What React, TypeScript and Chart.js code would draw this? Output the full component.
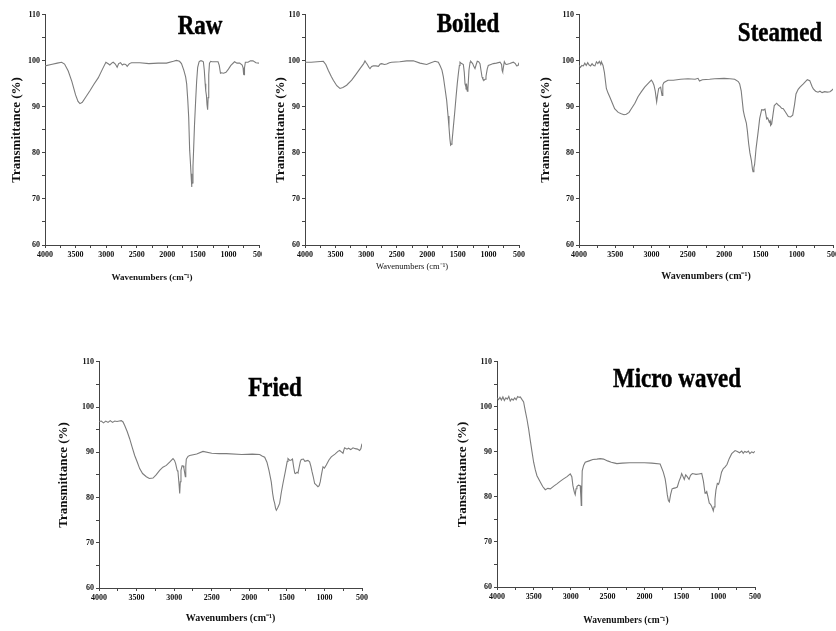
import React, { useEffect, useRef } from "react";
import { Chart, registerables } from "chart.js";
Chart.register(...registerables);

// ---------- tick labels ----------
const X_TICKS = [4000, 3750, 3500, 3250, 3000, 2750, 2500, 2250, 2000, 1750, 1500, 1250, 1000, 750, 500];
const Y_TICKS = [60, 65, 70, 75, 80, 85, 90, 95, 100, 105, 110];

// ---------- Raw ----------
const rawWavenumber = [4000, 3900, 3800, 3728, 3680, 3620, 3560, 3500, 3460, 3428, 3390, 3330, 3260, 3200, 3130, 3060, 3004, 2960, 2940, 2900, 2884, 2850, 2820, 2795, 2765, 2735, 2710, 2680, 2656, 2620, 2585, 2450, 2300, 2150, 2013, 1900, 1850, 1800, 1768, 1730, 1700, 1683, 1665, 1650, 1634, 1622, 1612, 1603, 1596, 1590, 1580, 1570, 1555, 1536, 1520, 1503, 1480, 1460, 1437, 1410, 1395, 1380, 1374, 1368, 1360, 1350, 1340, 1332, 1322, 1310, 1290, 1270, 1230, 1170, 1150, 1130, 1115, 1080, 1040, 1000, 960, 900, 860, 816, 775, 760, 752, 745, 737, 723, 680, 640, 598, 550, 500];
const rawTransmittance = [98.9, 99.2, 99.5, 99.7, 99.3, 97.8, 95.5, 92.6, 91.2, 90.7, 91.0, 92.2, 93.6, 94.9, 96.3, 98.2, 99.7, 99.3, 99.1, 99.6, 99.7, 99.3, 98.6, 99.4, 99.6, 99.1, 99.3, 99.2, 98.8, 99.4, 99.6, 99.6, 99.4, 99.5, 99.5, 99.9, 100.1, 99.9, 99.4, 98.0, 96.5, 95.0, 91.5, 87.8, 80.6, 78.0, 75.5, 72.6, 73.2, 73.5, 77.0, 80.5, 86.0, 91.4, 95.5, 98.6, 99.8, 100.0, 100.0, 99.8, 98.0, 95.0, 93.8, 93.5, 92.5, 90.5, 89.4, 92.0, 97.0, 99.5, 99.9, 99.8, 99.8, 99.8, 99.0, 97.3, 97.4, 97.3, 97.5, 98.2, 99.0, 99.8, 99.5, 99.5, 99.1, 98.5, 97.1, 97.0, 98.5, 99.7, 99.7, 100.0, 100.0, 99.6, 99.5];

// ---------- Boiled ----------
const boiledWavenumber = [4000, 3900, 3800, 3700, 3660, 3618, 3570, 3537, 3480, 3428, 3380, 3319, 3237, 3170, 3100, 3040, 3019, 3000, 2980, 2955, 2937, 2910, 2882, 2840, 2800, 2770, 2746, 2700, 2664, 2620, 2582, 2450, 2337, 2228, 2119, 2010, 1940, 1874, 1819, 1792, 1760, 1737, 1710, 1683, 1660, 1645, 1630, 1618, 1605, 1596, 1585, 1574, 1550, 1530, 1510, 1492, 1475, 1465, 1438, 1410, 1395, 1383, 1367, 1356, 1345, 1335, 1318, 1300, 1290, 1258, 1240, 1220, 1200, 1182, 1160, 1138, 1120, 1105, 1090, 1072, 1055, 1040, 1020, 1002, 960, 920, 870, 810, 785, 775, 767, 755, 740, 720, 702, 650, 593, 560, 538, 515, 500];
const boiledTransmittance = [99.7, 99.7, 99.8, 99.9, 99.2, 97.9, 96.6, 95.8, 94.6, 94.0, 94.2, 94.7, 95.8, 97.0, 98.3, 99.4, 100.0, 99.6, 99.2, 98.6, 98.3, 98.8, 98.9, 98.9, 98.8, 99.3, 99.4, 99.2, 99.3, 99.6, 99.7, 99.8, 100.0, 100.0, 99.5, 99.2, 99.6, 99.9, 99.7, 99.0, 98.0, 96.5, 94.0, 91.4, 88.0, 85.6, 83.0, 81.7, 81.9, 82.4, 84.0, 85.6, 89.0, 92.1, 95.0, 97.2, 99.0, 99.7, 99.4, 99.2, 97.5, 95.0, 94.3, 94.7, 93.4, 94.0, 98.0, 99.7, 99.9, 99.4, 98.8, 98.3, 99.2, 99.9, 99.8, 99.4, 97.8, 96.5, 96.0, 95.8, 96.0, 96.6, 98.2, 99.0, 99.2, 99.4, 99.5, 99.7, 99.2, 97.9, 97.6, 98.6, 99.8, 99.3, 99.2, 99.4, 99.7, 99.4, 98.9, 99.0, 99.6];

// ---------- Steamed ----------
const steamedWavenumber = [4000, 3980, 3960, 3940, 3920, 3900, 3880, 3860, 3840, 3820, 3800, 3780, 3760, 3740, 3720, 3700, 3692, 3669, 3650, 3623, 3600, 3577, 3540, 3509, 3460, 3417, 3380, 3348, 3310, 3279, 3230, 3187, 3140, 3095, 3040, 3003, 2985, 2967, 2950, 2930, 2915, 2902, 2875, 2856, 2845, 2829, 2774, 2700, 2600, 2498, 2400, 2360, 2340, 2300, 2200, 2130, 2000, 1920, 1855, 1805, 1786, 1765, 1736, 1720, 1694, 1680, 1662, 1645, 1625, 1610, 1602, 1590, 1580, 1560, 1529, 1510, 1483, 1460, 1437, 1414, 1400, 1378, 1368, 1360, 1345, 1330, 1309, 1276, 1255, 1230, 1208, 1185, 1160, 1116, 1085, 1055, 1030, 1010, 980, 955, 909, 854, 820, 790, 771, 740, 707, 680, 650, 615, 580, 542, 515, 500];
const steamedTransmittance = [99.0, 98.6, 99.0, 98.9, 99.5, 99.0, 99.6, 99.1, 98.9, 99.4, 99.0, 98.9, 99.8, 99.4, 99.9, 99.2, 99.8, 99.0, 97.5, 94.0, 93.0, 92.2, 90.8, 89.6, 88.8, 88.5, 88.3, 88.4, 88.8, 89.6, 90.8, 92.2, 93.3, 94.3, 95.2, 95.8, 95.4, 94.7, 93.5, 91.1, 92.8, 94.0, 94.3, 92.5, 94.8, 95.3, 95.8, 95.8, 96.0, 96.1, 96.0, 96.2, 95.6, 95.9, 96.0, 96.1, 96.2, 96.1, 96.0, 95.5, 95.0, 93.5, 89.2, 88.0, 86.5, 84.8, 82.0, 80.0, 78.4, 76.5, 75.9, 76.8, 77.5, 81.0, 84.9, 87.5, 89.4, 89.3, 89.5, 87.4, 87.6, 86.7, 87.0, 86.0, 86.3, 88.0, 90.3, 90.8, 90.4, 90.1, 89.7, 89.6, 89.0, 87.9, 87.8, 88.2, 90.5, 92.8, 93.8, 94.3, 95.0, 95.9, 95.7, 94.5, 93.9, 93.4, 93.2, 93.4, 93.1, 93.3, 93.2, 93.3, 93.6, 93.9];

// ---------- Fried ----------
const friedWavenumber = [4000, 3970, 3940, 3910, 3880, 3850, 3820, 3790, 3760, 3730, 3703, 3680, 3658, 3625, 3592, 3560, 3525, 3490, 3459, 3420, 3370, 3330, 3281, 3240, 3193, 3150, 3104, 3060, 3015, 2995, 2980, 2960, 2949, 2935, 2926, 2918, 2909, 2895, 2882, 2870, 2860, 2851, 2845, 2838, 2815, 2793, 2700, 2616, 2500, 2400, 2305, 2100, 1960, 1862, 1830, 1795, 1765, 1738, 1720, 1707, 1690, 1675, 1662, 1650, 1640, 1620, 1596, 1575, 1552, 1520, 1495, 1485, 1460, 1441, 1425, 1410, 1395, 1383, 1365, 1352, 1335, 1320, 1308, 1280, 1260, 1241, 1220, 1197, 1180, 1165, 1150, 1130, 1110, 1086, 1070, 1055, 1040, 1019, 1000, 975, 940, 909, 860, 820, 797, 775, 753, 740, 731, 700, 680, 650, 620, 590, 560, 532, 515, 500];
const friedTransmittance = [96.8, 96.9, 96.5, 96.9, 96.6, 97.0, 96.6, 96.9, 96.8, 96.9, 97.0, 96.7, 95.9, 94.6, 93.0, 91.2, 89.3, 87.8, 86.4, 85.3, 84.6, 84.2, 84.3, 85.0, 86.0, 86.7, 87.1, 87.8, 88.6, 88.2, 87.5, 86.0, 85.7, 83.0, 80.9, 83.5, 86.0, 87.0, 87.0, 86.5, 85.5, 84.6, 87.0, 88.5, 89.1, 89.3, 89.6, 90.2, 89.8, 89.7, 89.7, 89.5, 89.6, 89.5, 89.2, 88.9, 87.8, 86.0, 84.5, 83.4, 81.0, 79.5, 78.7, 77.6, 77.2, 77.8, 78.7, 81.0, 83.1, 85.8, 88.0, 88.6, 88.2, 88.3, 88.5, 86.8, 85.4, 85.3, 85.6, 85.4, 86.8, 88.0, 88.4, 88.5, 88.0, 88.1, 88.2, 87.9, 86.9, 85.7, 84.7, 83.1, 82.8, 82.4, 82.6, 83.5, 85.0, 86.8, 86.5, 87.2, 88.3, 89.0, 89.6, 90.2, 90.4, 90.1, 89.8, 90.6, 91.0, 90.7, 90.9, 90.6, 91.0, 90.8, 90.7, 90.4, 90.8, 91.9];

// ---------- Micro waved ----------
const microWavenumber = [4000, 3980, 3960, 3940, 3920, 3900, 3880, 3860, 3840, 3820, 3800, 3780, 3760, 3740, 3720, 3700, 3684, 3660, 3639, 3615, 3594, 3570, 3548, 3525, 3503, 3480, 3458, 3413, 3380, 3345, 3310, 3277, 3230, 3187, 3140, 3097, 3050, 3006, 2985, 2970, 2961, 2950, 2939, 2928, 2916, 2895, 2871, 2862, 2857, 2851, 2844, 2825, 2803, 2750, 2700, 2645, 2600, 2555, 2500, 2450, 2400, 2374, 2300, 2200, 2100, 2000, 1900, 1787, 1744, 1719, 1705, 1690, 1675, 1662, 1645, 1625, 1608, 1580, 1554, 1530, 1510, 1495, 1478, 1459, 1440, 1420, 1395, 1375, 1350, 1300, 1260, 1223, 1200, 1178, 1165, 1155, 1140, 1120, 1105, 1090, 1078, 1066, 1055, 1043, 1030, 1011, 995, 980, 954, 930, 908, 880, 850, 816, 770, 740, 710, 680, 660, 640, 613, 590, 570, 545, 522, 510, 500];
const microTransmittance = [102.0, 101.6, 102.1, 101.5, 102.2, 101.4, 102.0, 101.7, 102.3, 101.3, 101.8, 101.5, 102.0, 101.6, 102.3, 102.1, 102.2, 101.6, 101.1, 99.0, 97.3, 95.0, 92.5, 90.0, 87.7, 86.0, 84.7, 83.3, 82.3, 81.6, 81.9, 81.8, 82.4, 82.9, 83.5, 84.0, 84.5, 85.1, 84.5, 82.5, 81.8, 81.0, 80.5, 81.8, 82.3, 82.6, 82.5, 80.0, 78.1, 80.5, 85.8, 87.0, 87.7, 88.0, 88.3, 88.4, 88.5, 88.4, 88.0, 87.7, 87.5, 87.4, 87.5, 87.6, 87.6, 87.6, 87.5, 87.3, 85.5, 84.0, 82.5, 80.5, 79.2, 78.9, 80.5, 81.8, 81.9, 82.0, 82.2, 83.5, 84.3, 85.2, 84.6, 83.9, 84.9, 84.5, 83.9, 84.8, 85.2, 85.0, 85.1, 85.2, 83.5, 80.8, 81.0, 81.2, 80.2, 78.6, 78.4, 78.0, 77.5, 76.9, 77.8, 79.5, 81.5, 83.0, 82.8, 83.5, 85.5, 86.3, 86.6, 87.2, 88.5, 89.6, 90.3, 90.1, 89.8, 90.2, 89.7, 90.1, 89.9, 90.2, 89.6, 90.0, 89.8, 90.0, 90.1, 92.1];

const SERIF = '"Liberation Serif", "Times New Roman", serif';

type PanelSpec = {
  title: string;
  wn: number[];
  t: number[];
  left: number; top: number; width: number; height: number; clipWidth: number;
  yw: number; xh: number;
  xTitleBold: boolean; xTitleSize: number;
  titleX: number; titleY: number;
};

const PANELS: PanelSpec[] = [
  { title: "Raw", wn: rawWavenumber, t: rawTransmittance, left: 9, top: 8, width: 262, height: 275, clipWidth: 253, yw: 36, xh: 38, xTitleBold: true, xTitleSize: 9, titleX: 200, titleY: 25 },
  { title: "Boiled", wn: boiledWavenumber, t: boiledTransmittance, left: 273, top: 8, width: 258, height: 264, clipWidth: 258, yw: 32, xh: 27, xTitleBold: false, xTitleSize: 8.5, titleX: 468, titleY: 23 },
  { title: "Steamed", wn: steamedWavenumber, t: steamedTransmittance, left: 538, top: 8, width: 307, height: 274, clipWidth: 298, yw: 41, xh: 37, xTitleBold: true, xTitleSize: 10, titleX: 780, titleY: 32 },
  { title: "Fried", wn: friedWavenumber, t: friedTransmittance, left: 56, top: 355, width: 318, height: 269, clipWidth: 318, yw: 43, xh: 36, xTitleBold: true, xTitleSize: 10, titleX: 275, titleY: 387 },
  { title: "Micro waved", wn: microWavenumber, t: microTransmittance, left: 455, top: 355, width: 312, height: 271, clipWidth: 312, yw: 42, xh: 39, xTitleBold: true, xTitleSize: 9.5, titleX: 677, titleY: 378 },
];

function Panel({ p }: { p: PanelSpec }) {
  const ref = useRef<HTMLCanvasElement | null>(null);
  useEffect(() => {
    if (!ref.current) return;
    const tickFont = { family: SERIF, size: 8, weight: "bold" as const };
    const axisColor = "#444";
    const chart = new Chart(ref.current, {
      type: "line",
      data: {
        datasets: [
          {
            data: p.wn.map((x, i) => ({ x, y: p.t[i] })),
            borderColor: "#7c7c7c",
            borderWidth: 1.1,
            pointRadius: 0,
            tension: 0,
            fill: false,
          },
        ],
      },
      options: {
        animation: false,
        responsive: false,
        events: [],
        layout: { padding: { top: 6, right: 12, left: 0, bottom: 0 } },
        plugins: { legend: { display: false }, tooltip: { enabled: false }, title: { display: false } },
        scales: {
          x: {
            type: "linear",
            min: 500,
            max: 4000,
            reverse: true,
            afterBuildTicks: (s: any) => {
              s.ticks = X_TICKS.map((v) => ({ value: v }));
            },
            afterFit: (s: any) => {
              s.height = p.xh;
            },
            ticks: {
              font: tickFont,
              color: "#111",
              padding: 2,
              maxRotation: 0,
              autoSkip: false,
              callback: (v: any) => (Number(v) % 500 === 0 ? String(v) : ""),
            },
            grid: { drawOnChartArea: false, drawTicks: true, tickLength: 3, color: axisColor },
            border: { display: true, color: axisColor, width: 1 },
            title: {
              display: true,
              text: "Wavenumbers (cm⁻¹)",
              color: "#111",
              padding: 0,
              font: { family: SERIF, size: p.xTitleSize, weight: p.xTitleBold ? "bold" : "normal" },
            },
          },
          y: {
            type: "linear",
            min: 60,
            max: 110,
            afterBuildTicks: (s: any) => {
              s.ticks = Y_TICKS.map((v) => ({ value: v }));
            },
            afterFit: (s: any) => {
              s.width = p.yw;
            },
            ticks: {
              font: tickFont,
              color: "#111",
              padding: 2,
              autoSkip: false,
              callback: (v: any) => (Number(v) % 10 === 0 ? String(v) : ""),
            },
            grid: { drawOnChartArea: false, drawTicks: true, tickLength: 3, color: axisColor },
            border: { display: true, color: axisColor, width: 1 },
            title: {
              display: true,
              text: "Transmittance (%)",
              color: "#111",
              padding: 0,
              font: { family: SERIF, size: 13, weight: "bold" },
            },
          },
        },
      },
    } as any);
    return () => chart.destroy();
  }, [p]);

  return (
    <>
      <div
        style={{
          position: "absolute",
          left: p.left,
          top: p.top,
          width: p.clipWidth,
          height: p.height,
          overflow: "hidden",
        }}
      >
        <canvas ref={ref} width={p.width} height={p.height} style={{ width: p.width, height: p.height, display: "block" }} />
      </div>
      <div
        style={{
          position: "absolute",
          left: p.titleX,
          top: p.titleY,
          transform: "translate(-50%, -50%) scaleY(1.2)",
          fontFamily: SERIF,
          fontWeight: "bold",
          fontSize: 23,
          lineHeight: "23px",
          whiteSpace: "nowrap",
          color: "#000",
          WebkitTextStroke: "0.4px #000",
        }}
      >
        {p.title}
      </div>
    </>
  );
}

export default function App() {
  return (
    <div
      style={{
        position: "absolute",
        left: 0,
        top: 0,
        width: 836,
        height: 631,
        overflow: "hidden",
        background: "#fff",
      }}
    >
      {PANELS.map((p) => (
        <Panel key={p.title} p={p} />
      ))}
    </div>
  );
}
